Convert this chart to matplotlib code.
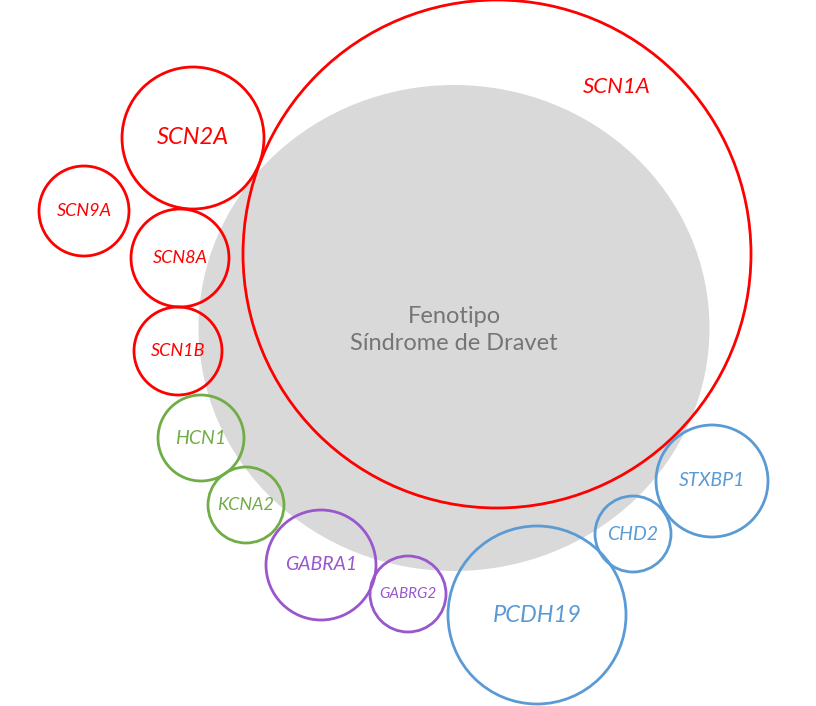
import matplotlib
matplotlib.use('Agg')
import matplotlib.pyplot as plt
import matplotlib.patches as patches

# gene circles: name, centre x/y (pixels, y down), radius, group
genes = ['SCN1A', 'SCN2A', 'SCN9A', 'SCN8A', 'SCN1B', 'HCN1', 'KCNA2',
         'GABRA1', 'GABRG2', 'PCDH19', 'CHD2', 'STXBP1']
cx = [497, 193, 84, 180, 178, 201, 246, 321, 408, 537, 633, 712]
cy = [254, 138, 211, 258, 351, 438, 505, 565, 594, 615, 534, 481]
radius = [254, 71, 45, 49, 44, 43, 38, 55, 38, 89, 38, 56]
group = ['na', 'na', 'na', 'na', 'na', 'k', 'k', 'gaba', 'gaba',
         'other', 'other', 'other']
label_size = [16, 17, 13, 13, 13, 14, 13, 14, 11, 17, 14, 14]

colors = {'na': '#FF0000', 'k': '#70AD47', 'gaba': '#9A57CD', 'other': '#5B9BD5'}

fig = plt.figure(figsize=(8.16, 7.06), dpi=100)
ax = fig.add_axes([0, 0, 1, 1])
ax.set_xlim(0, 816)
ax.set_ylim(706, 0)
ax.set_aspect('equal')
ax.axis('off')

# phenotype area
ax.add_patch(patches.Ellipse((454, 328), 511, 486, facecolor='#D9D9D9',
                             edgecolor='none', zorder=0))
ax.text(454, 330, 'Fenotipo\nSíndrome de Dravet', ha='center', va='center',
        fontsize=17, color='#757575', family='Lato', linespacing=1.3)

for name, x, y, r, g, fs in zip(genes, cx, cy, radius, group, label_size):
    c = colors[g]
    ax.add_patch(patches.Circle((x, y), r, facecolor='none', edgecolor=c,
                                linewidth=2, zorder=2))
    tx, ty = (x, y)
    if name == 'SCN1A':
        tx, ty = 617, 87
    ax.text(tx, ty, name, ha='center', va='center', fontsize=fs, color=c,
            style='italic', family='Lato', zorder=3)

fig.savefig('out.png', dpi=100)
